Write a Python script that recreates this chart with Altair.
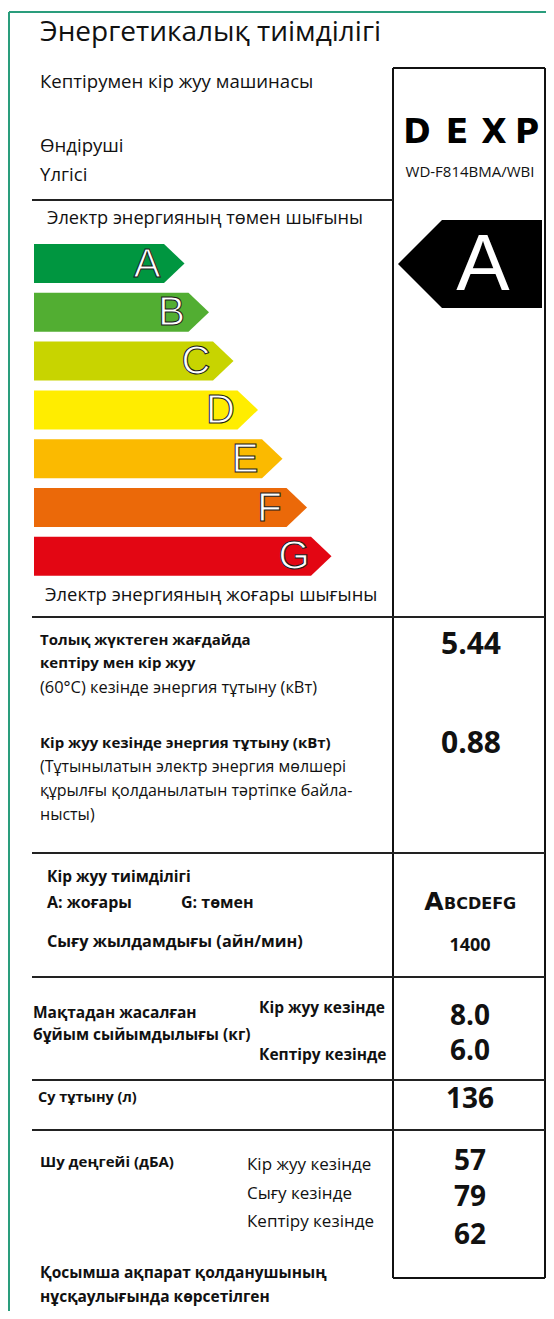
import altair as alt
import pandas as pd

# ---------------- data ----------------
classes = ["A", "B", "C", "D", "E", "F", "G"]
class_colors = ["#009640", "#52ae32", "#c8d400", "#ffed00", "#fbba00", "#eb6909", "#e30613"]
rated_class = "A"

title_text = "Энергетикалық тиімділігі"
appliance_text = "Кептірумен кір жуу машинасы"
manufacturer_label = "Өндіруші"
model_label = "Үлгісі"
brand_letters = ["D", "E", "X", "P"]
model_name = "WD-F814BMA/WBI"
low_text = "Электр энергияның төмен шығыны"
high_text = "Электр энергияның жоғары шығыны"

energy_full_lines = ["Толық жүктеген жағдайда", "кептіру мен кір жуу"]
energy_full_note = "(60°C) кезінде энергия тұтыну (кВт)"
energy_full_kwh = 5.44
energy_wash_title = "Кір жуу кезінде энергия тұтыну (кВт)"
energy_wash_note = ["(Тұтынылатын электр энергия мөлшері",
                    "құрылғы қолданылатын тәртіпке байла-",
                    "нысты)"]
energy_wash_kwh = 0.88

wash_eff_title = "Кір жуу тиімділігі"
wash_eff_high = "A: жоғары"
wash_eff_low = "G: төмен"
wash_eff_class = "A"
wash_eff_rest = "BCDEFG"
spin_label = "Сығу жылдамдығы (айн/мин)"
spin_rpm = 1400

capacity_label = ["Мақтадан жасалған", "бұйым сыйымдылығы (кг)"]
capacity_modes = ["Кір жуу кезінде", "Кептіру кезінде"]
capacity_kg = [8.0, 6.0]

water_label = "Су тұтыну (л)"
water_l = 136

noise_label = "Шу деңгейі (дБА)"
noise_modes = ["Кір жуу кезінде", "Сығу кезінде", "Кептіру кезінде"]
noise_dba = [57, 79, 62]

footer_lines = ["Қосымша ақпарат қолданушының", "нұсқаулығында көрсетілген"]

# ---------------- layout ----------------
BODY = "Open Sans"
ARIAL = "Liberation Sans"
INK = "#111111"
GREEN = "#2a9d7c"
LINE = "#222222"

W, H = 554, 1319
XS = alt.Scale(domain=[0, W], nice=False, zero=False)
YS = alt.Scale(domain=[0, H], reverse=True, nice=False, zero=False)

BOX_L, BOX_R, BOX_T, BOX_B = 393, 545, 68, 1278

# class arrows (area polygons)
bar_left, bar_top0, bar_step, bar_h = 34, 244, 48.8, 39
body0, body_step, tip_w = 164, 24.5, 20.5
arrow_rows = []
letter_rows = []
for i, (c, col) in enumerate(zip(classes, class_colors)):
    top = bar_top0 + i * bar_step
    bot = top + bar_h
    mid = (top + bot) / 2
    be = body0 + i * body_step
    for xx, y1, y2 in [(bar_left, top, bot), (be, top, bot), (be + tip_w, mid, mid)]:
        arrow_rows.append(dict(cls=c, x=xx, y=y1, y2=y2, color=col))
    letter_rows.append(dict(text=c, x=be - 17, y=mid + 1, size=40))

# rated class arrow in the right box
r_top, r_bot = 220, 308
r_mid = (r_top + r_bot) / 2
for xx, y1, y2 in [(398, r_mid, r_mid), (442, r_top, r_bot), (542, r_top, r_bot)]:
    arrow_rows.append(dict(cls="rated", x=xx, y=y1, y2=y2, color="#000000"))

arrows = alt.Chart(pd.DataFrame(arrow_rows)).mark_area(orient="vertical", interpolate="linear").encode(
    x=alt.X("x:Q", scale=XS, axis=None),
    y=alt.Y("y:Q", scale=YS, axis=None, stack=False),
    y2="y2:Q",
    detail="cls:N",
    color=alt.Color("color:N", scale=None),
)

outlined = alt.Chart(pd.DataFrame(letter_rows)).mark_text(
    align="center", baseline="middle", font=ARIAL, fill="white", stroke="#1a1a1a", strokeWidth=1
).encode(
    x=alt.X("x:Q", scale=XS, axis=None),
    y=alt.Y("y:Q", scale=YS, axis=None),
    text="text:N",
    size=alt.Size("size:Q", scale=None),
)

# rules: borders and separators
rules = []
def rule(x, x2, y, y2, color=LINE, w=2):
    rules.append(dict(x=x, x2=x2, y=y, y2=y2, color=color, w=w))

rule(9, 554, 12, 12, GREEN, 2)
rule(9, 9, 12, 1319, GREEN, 2)
# right box
rule(BOX_L, BOX_R, BOX_T, BOX_T, "#111111", 2)
rule(BOX_L, BOX_R, BOX_B, BOX_B, "#111111", 2)
rule(BOX_L, BOX_L, BOX_T, BOX_B, "#111111", 2)
rule(BOX_R, BOX_R, BOX_T, BOX_B, "#111111", 2)
# separators
rule(32, BOX_L, 200, 200)
for yy in [617, 853, 977, 1080, 1130]:
    rule(32, BOX_R, yy, yy)

rule_layer = alt.Chart(pd.DataFrame(rules)).mark_rule().encode(
    x=alt.X("x:Q", scale=XS, axis=None), x2="x2:Q",
    y=alt.Y("y:Q", scale=YS, axis=None), y2="y2:Q",
    color=alt.Color("color:N", scale=None),
    size=alt.Size("w:Q", scale=None),
)

# texts
texts = []
def add(text, x, y, size, bold=False, align="left", font=BODY, color=INK):
    texts.append(dict(text=text, x=x, y=y, size=size, bold=bold, align=align, font=font, color=color))

add(title_text, 40, 33, 28)
add(appliance_text, 40, 82, 18.6)
add(manufacturer_label, 40, 146, 18.6)
add(model_label, 40, 175, 18.6)
for lx, l in zip([417, 457, 494, 527], brand_letters):
    add(l, lx, 133, 33, bold=True, align="center", font="DejaVu Sans", color="#000000")
add(model_name, 470, 172, 15, align="center")
add(low_text, 47, 219, 18.2)
add(high_text, 45, 595, 18.4)
add(rated_class, 483, 266, 80, align="center", font=ARIAL, color="#ffffff")

add(energy_full_lines[0], 40, 640, 15, bold=True)
add(energy_full_lines[1], 40, 663, 15, bold=True)
add(energy_full_note, 40, 688, 16.4)
add(f"{energy_full_kwh:.2f}", 471, 645, 30, bold=True, align="center")
add(energy_wash_title, 40, 743, 15, bold=True)
for k, t in enumerate(energy_wash_note):
    add(t, 40, 767 + 24 * k, 16)
add(f"{energy_wash_kwh:.2f}", 471, 744, 30, bold=True, align="center")

add(wash_eff_title, 47, 877, 15.5, bold=True)
add(wash_eff_high, 47, 903, 16, bold=True)
add(wash_eff_low, 181, 903, 16, bold=True)
add(spin_label, 47, 942, 16.3, bold=True)
add(wash_eff_class, 434, 902, 25, bold=True, align="center", font="DejaVu Sans")
add(wash_eff_rest, 444, 904, 16, bold=True, font="DejaVu Sans")
add(str(spin_rpm), 470, 946, 18, bold=True, align="center")

add(capacity_label[0], 33, 1013, 15.5, bold=True)
add(capacity_label[1], 33, 1035, 15.5, bold=True)
add(capacity_modes[0], 259, 1008, 15.5, bold=True)
add(capacity_modes[1], 259, 1055, 15.5, bold=True)
add(f"{capacity_kg[0]:.1f}", 470, 1017, 28, bold=True, align="center")
add(f"{capacity_kg[1]:.1f}", 470, 1052, 28, bold=True, align="center")

add(water_label, 38, 1098, 14.5, bold=True)
add(str(water_l), 470, 1100, 28, bold=True, align="center")

add(noise_label, 40, 1162, 15, bold=True)
for k, (m, v, vy) in enumerate(zip(noise_modes, noise_dba, [1162, 1198, 1236])):
    add(m, 247, 1165 + 28.5 * k, 17)
    add(str(v), 470, vy, 28, bold=True, align="center")

add(footer_lines[0], 40, 1273, 15.5, bold=True)
add(footer_lines[1], 40, 1297, 15.5, bold=True)

tdf = pd.DataFrame(texts)
text_layers = []
for (bold, align, font), g in tdf.groupby(["bold", "align", "font"]):
    text_layers.append(
        alt.Chart(g.drop(columns=["bold", "align", "font"])).mark_text(
            align=align, baseline="middle", font=font, fontWeight="bold" if bold else "normal"
        ).encode(
            x=alt.X("x:Q", scale=XS, axis=None),
            y=alt.Y("y:Q", scale=YS, axis=None),
            text="text:N",
            size=alt.Size("size:Q", scale=None),
            color=alt.Color("color:N", scale=None),
        )
    )

# the page has an 8px margin: negative padding keeps chart coordinates equal to
# window coordinates while the drawn svg stays inside the window.
chart = alt.layer(arrows, rule_layer, outlined, *text_layers).properties(
    width=W, height=H,
    autosize=alt.AutoSizeParams(type="none"),
    padding={"left": -8, "top": -8, "right": -8, "bottom": -8},
    background="white",
).configure_view(strokeWidth=0)

chart.save("out.html", embed_options={"renderer": "svg", "actions": False})
